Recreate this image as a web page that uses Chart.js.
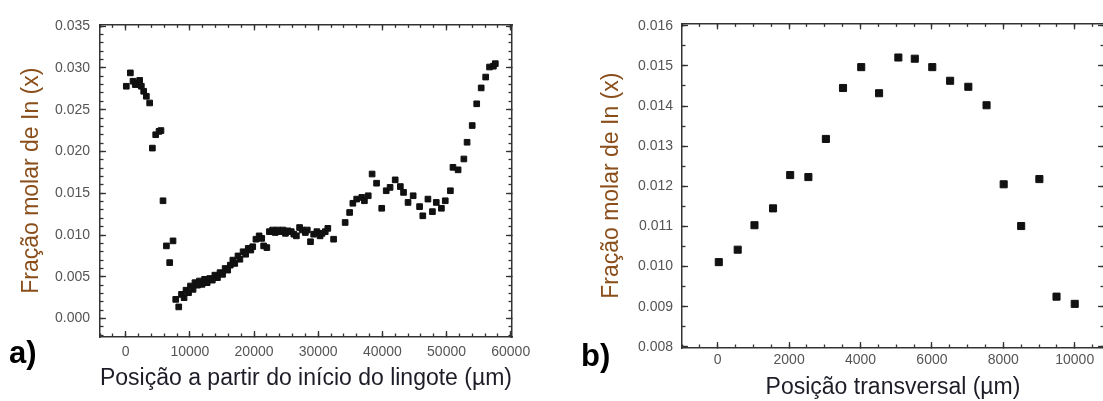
<!DOCTYPE html>
<html>
<head>
<meta charset="utf-8">
<script src="https://cdn.jsdelivr.net/npm/chart.js@4/dist/chart.umd.min.js"></script>
<style>
html, body { margin:0; padding:0; width:1103px; height:401px; overflow:hidden; background:#fff; }
canvas { position:absolute; top:0; }
#ca { left:0; }
#cb { left:560px; }
.tag { position:absolute; font-family:'Liberation Sans', Arial, sans-serif; font-weight:bold; font-size:31px; line-height:31px; color:#000; }
</style>
</head>
<body>
<canvas id="ca" width="545" height="401"></canvas>
<canvas id="cb" width="560" height="401"></canvas>
<div class="tag" style="left:9px; top:337px;">a)</div>
<div class="tag" style="left:581px; top:340px;">b)</div>
<script>
// ---- Chart a: position along ingot (µm) vs In molar fraction ----
const posA = [
  100, 730, 1140, 1500, 1770, 2180, 2440, 2810, 3220, 3740,
  4160, 4680, 5200, 5500, 5820, 6350, 6860, 7380, 7800, 8270,
  8700, 9100, 9400, 9800, 10100, 10500, 10800, 11200, 11500, 11900,
  12300, 12700, 13100, 13500, 13900, 14300, 14700, 15100, 15500, 15900,
  16300, 16700, 17000, 17500, 17800, 18300, 18700, 19100, 19500, 19800,
  20300, 20800, 21200, 21500, 22000, 22400, 22900, 23300, 23700, 24100,
  24500, 24900, 25300, 25800, 26200, 26600, 27100, 27500, 28000, 28300,
  28800, 29300, 29800, 30300, 30600, 31100, 31500, 32400, 34200, 34900,
  35400, 36000, 36800, 37200, 37800, 38400, 39100, 39900, 40600, 41200,
  42000, 42800, 43300, 44000, 44800, 45800, 46300, 47100, 47800, 48400,
  49200, 49800, 50600, 51000, 51800, 52700, 53200, 54000, 54700, 55400,
  56100, 56700, 57300, 57600
];
const fracA = [
  0.0278, 0.0294, 0.0284, 0.0280, 0.0282, 0.0285, 0.0278, 0.0272, 0.0266, 0.0258,
  0.0204, 0.0220, 0.0224, 0.0225, 0.0141, 0.0087, 0.0067, 0.0093, 0.0023, 0.0014,
  0.0029, 0.0025, 0.0034, 0.0031, 0.0039, 0.0035, 0.0043, 0.0040, 0.0045, 0.0041,
  0.0047, 0.0043, 0.0048, 0.0046, 0.0052, 0.0049, 0.0055, 0.0053, 0.0060, 0.0058,
  0.0064, 0.0070, 0.0066, 0.0075, 0.0071, 0.0080, 0.0077, 0.0084, 0.0082, 0.0086,
  0.0095, 0.0099, 0.0096, 0.0087, 0.0085, 0.0104, 0.0106, 0.0103, 0.0106, 0.0104,
  0.0106, 0.0102, 0.0105, 0.0104, 0.0101, 0.0099, 0.0109, 0.0106, 0.0103, 0.0106,
  0.0092, 0.0101, 0.0104, 0.0099, 0.0102, 0.0104, 0.0108, 0.0095, 0.0115, 0.0127,
  0.0138, 0.0143, 0.0145, 0.0141, 0.0147, 0.0173, 0.0162, 0.0132, 0.0153, 0.0157,
  0.0166, 0.0158, 0.0151, 0.0139, 0.0147, 0.0134, 0.0123, 0.0143, 0.0128, 0.0139,
  0.0132, 0.0141, 0.0153, 0.0181, 0.0178, 0.0191, 0.0211, 0.0231, 0.0257, 0.0276,
  0.0289, 0.0301, 0.0302, 0.0305
];
const xRangeA = [-4000, 60200];
const yRangeA = [-0.0022, 0.0352];
const xStepsA = [10000, 2000];   // major, minor
const yStepsA = [0.005, 0.001];

// ---- Chart b: transversal position (µm) vs In molar fraction ----
const posB = [30, 560, 1030, 1550, 2030, 2540, 3030, 3510, 4020, 4520, 5060,
              5520, 6010, 6510, 7020, 7530, 8010, 8500, 9010, 9490, 10000];
const fracB = [0.01011, 0.01042, 0.01103, 0.01145, 0.01228, 0.01223, 0.01318, 0.01445, 0.01497, 0.01432, 0.01521,
               0.01518, 0.01497, 0.01463, 0.01448, 0.01402, 0.01205, 0.01101, 0.01218, 0.00925, 0.00907];
const xRangeB = [-1000, 10820];
const yRangeB = [0.00797, 0.01606];
const xStepsB = [2000, 500];
const yStepsB = [0.001, 0.0005];

const labelsA = { x: 'Posição a partir do início do lingote (µm)', y: 'Fração molar de In (x)' };
const labelsB = { x: 'Posição transversal (µm)', y: 'Fração molar de In (x)' };

const FONT = "'Liberation Sans', Arial, Helvetica, sans-serif";
const FRAME = '#333333';
const TICKTXT = '#555555';
const YTITLE = '#8a4e1a';
const XTITLE = '#1d1d28';

function frameAxis(axis, position, range, step, len, opts) {
  return {
    type: 'linear', axis: axis, position: position,
    min: range[0], max: range[1],
    weight: opts.weight || 0,
    border: { display: !!opts.border, color: FRAME, width: 1.5 },
    grid: { display: true, drawOnChartArea: false, drawTicks: true,
            tickLength: -len, tickColor: FRAME, tickWidth: 1.3 },
    ticks: { display: !!opts.labels, autoSkip: false, maxRotation: 0, minRotation: 0,
             padding: opts.pad || 0, color: TICKTXT,
             font: { family: FONT, size: 14 },
             callback: opts.fmt || (v => String(v)) },
    title: opts.title ? { display: true, text: opts.title, color: opts.titleColor,
             font: { family: FONT, size: 23 }, padding: opts.titlePad } : { display: false },
    afterBuildTicks: sc => {
      // ticks at whole multiples of the step inside the axis range
      const t = [];
      const first = Math.ceil(range[0] / step - 1e-9);
      const last = Math.floor(range[1] / step + 1e-9);
      for (let k = first; k <= last; k++) t.push({ value: parseFloat((k * step).toPrecision(10)) });
      sc.ticks = t;
    },
    afterFit: sc => {
      if (axis === 'x') sc.height = opts.size || 0; else sc.width = opts.size || 0;
    }
  };
}

function makeChart(id, xs, ys, cfg) {
  const data = xs.map((x, i) => ({ x: x, y: ys[i] }));
  const scales = {
    x:   frameAxis('x', 'bottom', cfg.xr, cfg.xs[0], 6,   { border: true, labels: true, pad: cfg.xPad, size: cfg.xSize, fmt: v => String(v), title: cfg.lab.x, titleColor: XTITLE, titlePad: { top: 0, bottom: cfg.xTitlePad } }),
    xm:  frameAxis('x', 'bottom', cfg.xr, cfg.xs[1], 3.5, { weight: -1 }),
    xt:  frameAxis('x', 'top',    cfg.xr, cfg.xs[0], 6,   { border: true }),
    xtm: frameAxis('x', 'top',    cfg.xr, cfg.xs[1], 3.5, { weight: -1 }),
    y:   frameAxis('y', 'left',   cfg.yr, cfg.ys[0], 6,   { border: true, labels: true, pad: cfg.yPad, size: cfg.ySize, fmt: v => v.toFixed(3), title: cfg.lab.y, titleColor: YTITLE, titlePad: { top: cfg.yTitlePad, bottom: 0 } }),
    ym:  frameAxis('y', 'left',   cfg.yr, cfg.ys[1], 3.5, { weight: -1 }),
    yr:  frameAxis('y', 'right',  cfg.yr, cfg.ys[0], 6,   { border: true }),
    yrm: frameAxis('y', 'right',  cfg.yr, cfg.ys[1], 3.5, { weight: -1 })
  };
  return new Chart(document.getElementById(id), {
    type: 'scatter',
    data: { datasets: [{
      data: data,
      pointStyle: 'rect',
      pointRadius: cfg.r,
      pointHoverRadius: cfg.r,
      pointBackgroundColor: '#111',
      pointBorderColor: '#111',
      pointBorderWidth: 1
    }] },
    options: {
      responsive: false,
      animation: false,
      devicePixelRatio: 1,
      layout: { padding: cfg.padding },
      plugins: { legend: { display: false }, tooltip: { enabled: false } },
      scales: scales
    }
  });
}

makeChart('ca', posA, fracA, {
  xr: xRangeA, yr: yRangeA, xs: xStepsA, ys: yStepsA, lab: labelsA,
  r: 4.0,
  padding: { left: 0, top: 19, right: 33, bottom: 0 },
  xSize: 64, ySize: 100, xPad: 13, yPad: 16, xTitlePad: 9, yTitlePad: 18
});

makeChart('cb', posB, fracB, {
  xr: xRangeB, yr: yRangeB, xs: xStepsB, ys: yStepsB, lab: labelsB,
  r: 5.0,
  padding: { left: 0, top: 22, right: 16, bottom: 0 },
  xSize: 53, ySize: 122, xPad: 10, yPad: 15, xTitlePad: 0, yTitlePad: 38
});
</script>
</body>
</html>
